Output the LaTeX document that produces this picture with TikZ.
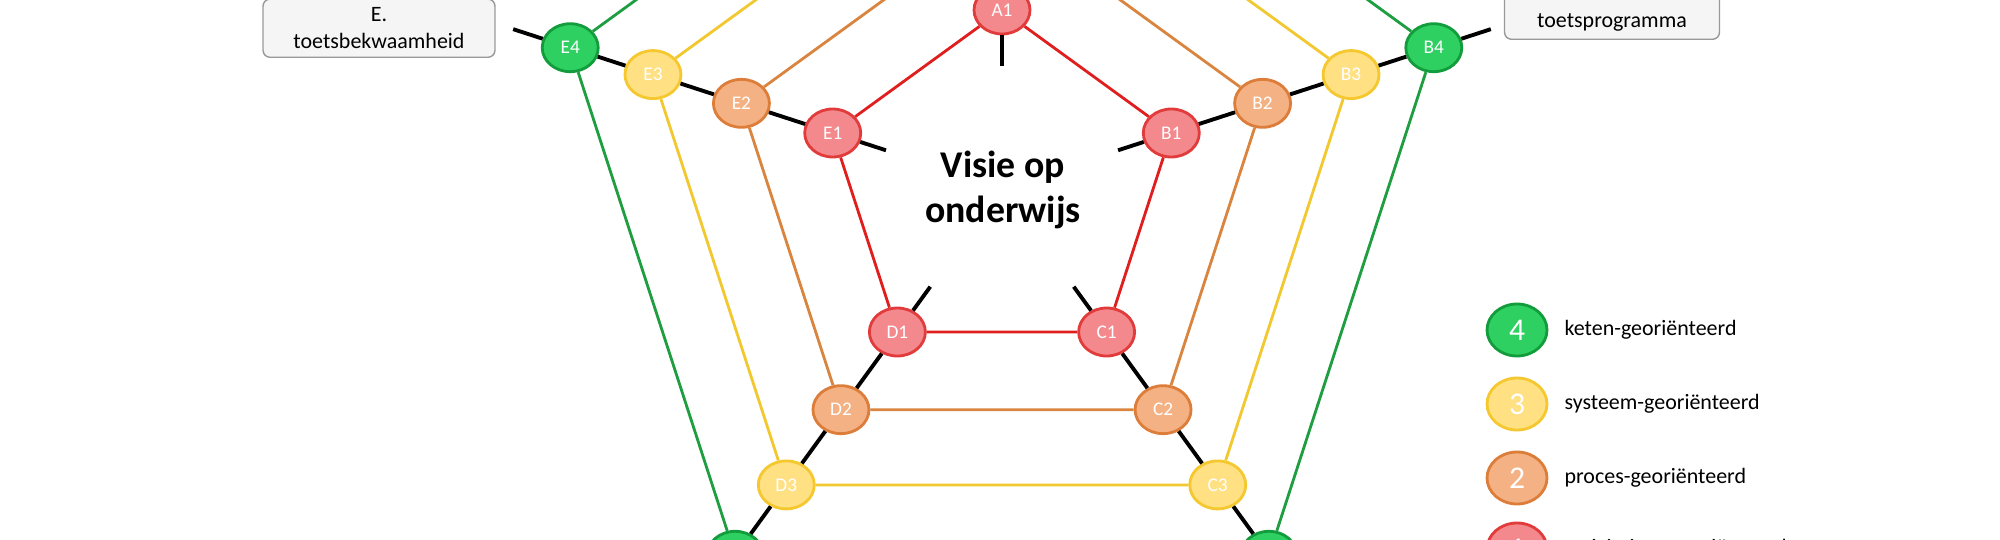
\documentclass[tikz,border=0pt]{standalone}
\usepackage{fontspec}
\setmainfont{Carlito}
\usetikzlibrary{positioning,shapes.geometric}
\definecolor{redfill}{HTML}{F3898D}
\definecolor{reddraw}{HTML}{E23B3B}
\definecolor{redline}{HTML}{E01E1E}
\definecolor{orafill}{HTML}{F4B183}
\definecolor{oradraw}{HTML}{DD7D3A}
\definecolor{oraline}{HTML}{D9843F}
\definecolor{yelfill}{HTML}{FFE083}
\definecolor{yeldraw}{HTML}{F4C82E}
\definecolor{yelline}{HTML}{F2C830}
\definecolor{grefill}{HTML}{2FD062}
\definecolor{gredraw}{HTML}{129C3C}
\definecolor{greline}{HTML}{1E9E40}
\newcommand{\cx}{1002}
\newcommand{\cy}{188}
\begin{document}
\begin{tikzpicture}[
      x=0.02cm, y=-0.02cm,
      dot/.style={ellipse, line width=1.6pt, minimum width=1.12cm, minimum height=0.96cm,
        inner sep=0pt, text=white, font=\fontsize{11}{12}\selectfont},
      lvl1/.style={dot, fill=redfill, draw=reddraw},
      lvl2/.style={dot, fill=orafill, draw=oradraw},
      lvl3/.style={dot, fill=yelfill, draw=yeldraw},
      lvl4/.style={dot, fill=grefill, draw=gredraw},
      ring/.style={line width=1.6pt},
      spoke/.style={line width=2.2pt, black},
      legdot/.style={minimum width=1.2cm, minimum height=1.04cm, font=\fontsize{18}{20}\selectfont},
      legtext/.style={font=\fontsize{12.5}{14}\selectfont, anchor=west},
      labelbox/.style={draw=gray!80, fill=gray!8, rounded corners=4pt, line width=0.8pt,
        font=\fontsize{12.5}{15}\selectfont, align=center}
    ]
    \useasboundingbox (0,0) rectangle (2000,540);
    \clip (0,0) rectangle (2000,540);
    % nodes of the four rings
    \foreach \lvl/\r in {1/178,2/274,3/367,4/454}
      \foreach \ltr/\a in {A/90,B/18,C/-54,D/-126,E/162}
        \node[lvl\lvl] (\ltr\lvl) at ({\cx+\r*cos(\a)},{\cy-\r*sin(\a)}) {\ltr\lvl};
    % spokes
    \foreach \ltr/\a in {A/90,B/18,C/-54,D/-126,E/162} {
      \coordinate (in\ltr) at ({\cx+122*cos(\a)},{\cy-122*sin(\a)});
      \coordinate (out\ltr) at ({\cx+514*cos(\a)},{\cy-514*sin(\a)});
      \draw[spoke] (in\ltr) -- (\ltr1) (\ltr1) -- (\ltr2) (\ltr2) -- (\ltr3)
        (\ltr3) -- (\ltr4) (\ltr4) -- (out\ltr);
    }
    % rings
    \foreach \lvl/\col in {1/redline,2/oraline,3/yelline,4/greline}
      \draw[ring, \col] (A\lvl) -- (B\lvl) -- (C\lvl) -- (D\lvl) -- (E\lvl) -- (A\lvl);
    % centre
    \node[font=\bfseries\fontsize{21.5}{26}\selectfont, align=center] (visie) at (1003,190) {Visie op\\onderwijs};
    % boxes
    \node[labelbox, anchor=south, minimum width=4.64cm, inner ysep=5pt] (boxE) at (379,58) {E.\\toetsbekwaamheid};
    \node[labelbox, anchor=south, minimum width=4.3cm, text height=1cm, text depth=0.12cm] (boxB) at (1612,40) {toetsprogramma};
    % legend
    \node[lvl4, legdot] (leg4) at (1517,330) {4};
    \node[lvl3, legdot] (leg3) at (1517,404) {3};
    \node[lvl2, legdot] (leg2) at (1517,478) {2};
    \node[lvl1, legdot] (leg1) at (1517,549) {1};
    \node[legtext, right=0.2cm of leg4] (txt4) {keten-georiënteerd};
    \node[legtext, right=0.2cm of leg3] (txt3) {systeem-georiënteerd};
    \node[legtext, right=0.2cm of leg2] (txt2) {proces-georiënteerd};
    \node[legtext, right=0.2cm of leg1] (txt1) {activiteiten-georiënteerd};
\end{tikzpicture}
\end{document}
